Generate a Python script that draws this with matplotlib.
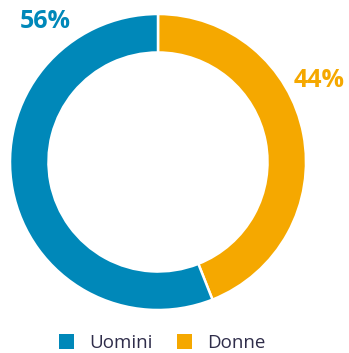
import matplotlib
matplotlib.use('Agg')
import matplotlib.pyplot as plt
from matplotlib.patches import Patch

labels = ['Donne', 'Uomini']
values = [44, 56]
colors = ['#F5A800', '#0088B9']
legend_order = ['Uomini', 'Donne']

plt.rcParams['font.family'] = ['Open Sans', 'DejaVu Sans']

fig = plt.figure(figsize=(3.49, 3.53), dpi=100)
ax = fig.add_axes([10 / 349, 43 / 353, 296 / 349, 296 / 353])

wedges, _ = ax.pie(values, colors=colors, startangle=90, counterclock=False,
                   radius=1.0,
                   wedgeprops=dict(width=0.26, edgecolor='white', linewidth=1.8))
ax.set_aspect('equal')
ax.set_xlim(-1, 1)
ax.set_ylim(-1, 1)

# percentage labels outside the ring
ax.text(-0.76, 0.95, f'{values[1]}%', color=colors[1], fontsize=18,
        fontweight='bold', ha='center', va='center')
ax.text(1.09, 0.55, f'{values[0]}%', color=colors[0], fontsize=18,
        fontweight='bold', ha='center', va='center')

cmap = dict(zip(labels, colors))
handles = [Patch(facecolor=cmap[l], edgecolor='none', label=l) for l in legend_order]
fig.legend(handles=handles, loc='lower center', bbox_to_anchor=(0.465, -0.045),
           ncol=2, frameon=False, fontsize=13.5, handlelength=0.8,
           handleheight=0.8, handletextpad=0.8, columnspacing=1.3,
           labelcolor='#2f2d4a')

fig.savefig('out.png', dpi=100, facecolor='white')
